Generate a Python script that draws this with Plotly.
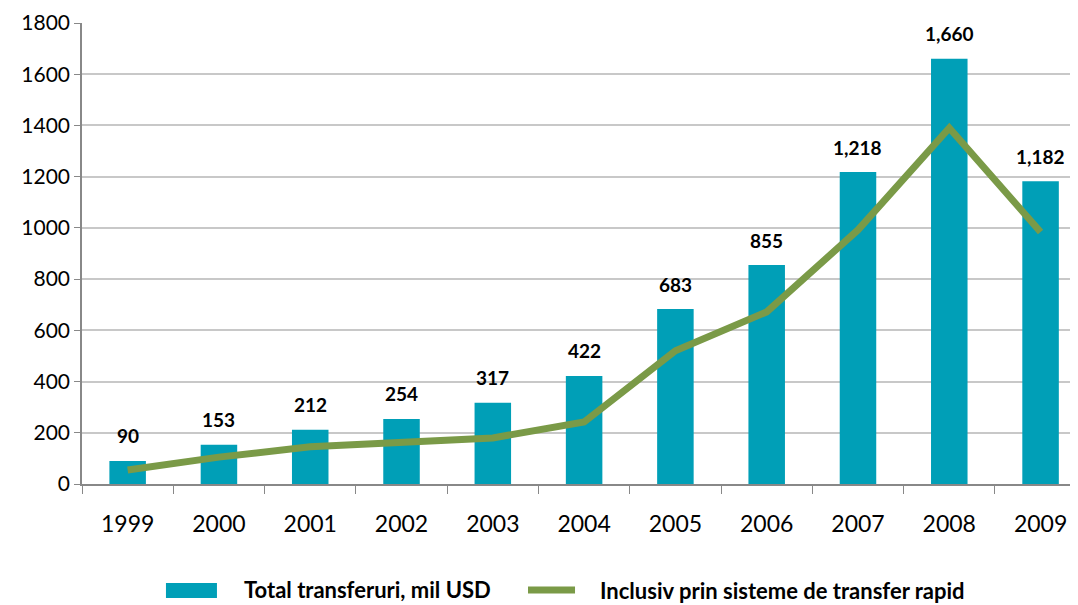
import plotly.graph_objects as go

YEARS = ["1999", "2000", "2001", "2002", "2003", "2004",
         "2005", "2006", "2007", "2008", "2009"]
TOTAL_TRANSFERS = [90, 153, 212, 254, 317, 422, 683, 855, 1218, 1660, 1182]
RAPID_TRANSFERS = [55, 105, 145, 165, 180, 242, 520, 672, 992, 1390, 984]
TOTAL_LABELS = ["90", "153", "212", "254", "317", "422",
                "683", "855", "1,218", "1,660", "1,182"]

BAR_NAME = "Total transferuri, mil USD"
LINE_NAME = "Inclusiv prin sisteme de transfer rapid"

BAR_COLOR = "#009FB7"
LINE_COLOR = "#7A9A47"
FONT = "Lato, sans-serif"

fig = go.Figure()

fig.add_trace(go.Bar(
    x=YEARS,
    y=TOTAL_TRANSFERS,
    name=BAR_NAME,
    marker_color=BAR_COLOR,
    marker_line_width=0,
    width=0.4,
))

fig.add_trace(go.Scatter(
    x=YEARS,
    y=RAPID_TRANSFERS,
    name=LINE_NAME,
    mode="lines",
    line=dict(color=LINE_COLOR, width=7),
))

# value labels above the bars
for i, (val, label) in enumerate(zip(TOTAL_TRANSFERS, TOTAL_LABELS)):
    fig.add_annotation(
        x=i, y=val, xref="x", yref="y",
        text=f"<b>{label}</b>", showarrow=False,
        yshift=25, font=dict(size=19, color="black", family=FONT),
    )

# hand-drawn legend below the plot (paper coords)
fig.add_shape(type="rect", xref="paper", yref="paper",
              x0=0.0843, x1=0.1355, y0=-0.2473, y1=-0.2148,
              fillcolor=BAR_COLOR, line_width=0)
fig.add_annotation(xref="paper", yref="paper", x=0.1606, y=-0.228,
                   xanchor="left", yanchor="middle", showarrow=False,
                   text=f"<b>{BAR_NAME}</b>",
                   font=dict(size=22, color="black", family=FONT))
fig.add_shape(type="line", xref="paper", yref="paper",
              x0=0.4478, x1=0.4950, y0=-0.230, y1=-0.230,
              line=dict(color=LINE_COLOR, width=7))
fig.add_annotation(xref="paper", yref="paper", x=0.518, y=-0.231,
                   xanchor="left", yanchor="middle", showarrow=False,
                   text=f"<b>{LINE_NAME}</b>",
                   font=dict(size=22, color="black", family=FONT))

# page body has an 8px margin, so the figure is sized/offset to compensate
fig.update_layout(
    width=1070,
    height=597,
    margin=dict(l=74, r=0, t=15, b=121),
    plot_bgcolor="white",
    paper_bgcolor="white",
    font=dict(family=FONT, color="black"),
    showlegend=False,
    xaxis=dict(
        type="category",
        range=[-0.5, 10.41],
        automargin=False,
        showgrid=False,
        showline=True,
        linecolor="#888888",
        linewidth=1.5,
        ticks="outside",
        tickson="boundaries",
        ticklen=8,
        tickcolor="#888888",
        tickfont=dict(size=23),
        ticklabelstandoff=19,
    ),
    yaxis=dict(
        range=[0, 1800],
        dtick=200,
        automargin=False,
        showgrid=True,
        gridcolor="#C8C8C8",
        gridwidth=1.5,
        showline=True,
        linecolor="#888888",
        linewidth=1.5,
        ticks="outside",
        ticklen=6,
        tickcolor="#888888",
        tickfont=dict(size=21),
        zeroline=False,
    ),
)

fig.write_html("out.html")
